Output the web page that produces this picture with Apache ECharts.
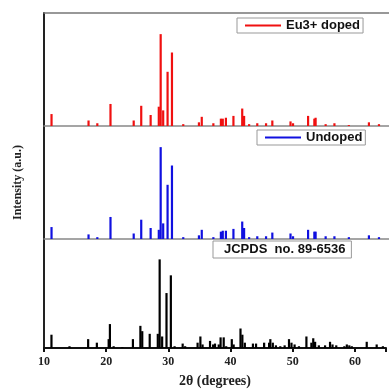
<!DOCTYPE html>
<html><head><meta charset="utf-8">
<script src="https://cdn.jsdelivr.net/npm/echarts@6/dist/echarts.min.js"></script>
<style>html,body{margin:0;padding:0;background:#fff}#c{width:389px;height:389px}</style>
</head><body><div id="c"></div>
<script>
// Eu3+ doped
const dopedPos = [11.2,17.1,18.5,20.6,24.3,25.5,27.0,28.3,28.6,29.0,29.7,30.4,32.2,34.7,35.15,37.0,38.2,38.5,39.0,40.2,41.6,41.9,42.7,44.0,45.4,46.4,49.3,49.7,52.1,53.1,53.3,54.9,56.3,58.6,61.8,63.4];
const dopedInt = [13,6,3,24,6,22,12,21,100,17,59,80,2,4,10,3,8,8,9,11,19,11,2,3,3,6,5,3,11,8,9,2,3,1,4,2];
// Undoped
const undopedPos = [11.2,17.1,18.5,20.6,24.3,25.5,27.0,28.3,28.6,29.0,29.7,30.4,32.2,34.7,35.15,37.0,38.2,38.5,39.0,40.2,41.6,41.9,42.7,44.0,45.4,46.4,49.3,49.7,52.1,53.1,53.3,54.9,56.3,58.6,61.8,63.4];
const undopedInt = [13,5,2,24,6,21,12,10,100,17,59,80,2,4,10,2,8,9,9,11,19,12,2,3,3,7,6,3,10,8,8,3,3,2,4,2];
// JCPDS no. 89-6536
const refPos = [11.2,14.1,17.1,18.5,20.4,20.6,21.2,22.6,24.3,25.5,25.8,27.0,28.3,28.6,29.0,29.7,30.4,31.0,32.3,32.7,34.7,35.15,35.5,36.7,37.2,37.5,38.1,38.4,38.9,39.3,40.2,40.5,41.6,41.9,42.3,43.6,44.1,45.4,46.2,46.4,46.8,47.3,48.0,48.7,49.4,49.8,50.3,51.0,52.2,53.0,53.3,53.6,54.2,55.2,56.0,56.4,57.0,58.3,58.7,59.1,59.5,61.9,63.5,64.5];
const refInt = [15,2,10,6,10,27,2,1,10,25,19,16,16,100,13,62,82,2,5,2,6,13,4,8,4,5,4,12,12,2,10,4,22,15,6,5,5,6,6,10,6,3,2,3,10,6,4,2,13,6,11,7,3,3,7,4,3,2,4,3,2,7,4,2];
const xTicks = [10,20,30,40,50,60];

const names = ['Eu3+ doped','Undoped','JCPDS  no. 89-6536'];
const colors = ['#f01010','#1010e0','#000000'];
const sets = [[dopedPos,dopedInt],[undopedPos,undopedInt],[refPos,refInt]];

const chart = echarts.init(document.getElementById('c'));
const grids = [
  {left:44,right:0,top:13,height:113},
  {left:44,right:0,top:126,height:113},
  {left:44,right:0,top:239,height:113}
];
const xAxis = [], yAxis = [], series = [];
for (let i=0;i<3;i++){
  const last = i===2;
  xAxis.push({type:'value',gridIndex:i,min:10,max:65,interval:10,
    axisLine:{show:true,onZero:false,lineStyle:{color:last?'#111':'#888',width:last?2:1.5}},
    axisTick:{show:last,length:4,lineStyle:{color:'#111',width:2}},
    axisLabel:{show:last,color:'#222',fontFamily:'Liberation Serif',fontWeight:'bold',fontSize:12,margin:8,
      formatter:v=>xTicks.includes(v)?String(v):''},
    splitLine:{show:false},
    name:last?'2θ (degrees)':'',nameLocation:'middle',nameGap:26,
    nameTextStyle:{fontFamily:'Liberation Serif',fontWeight:'bold',fontSize:14,color:'#222'}});
  yAxis.push({type:'value',gridIndex:i,min:0,max:123,
    axisLine:{show:true,lineStyle:{color:'#222',width:2}},
    axisTick:{show:false},axisLabel:{show:false},splitLine:{show:false},
    name:i===1?'Intensity (a.u.)':'',nameLocation:'middle',nameGap:20,nameRotate:90,
    nameTextStyle:{fontFamily:'Liberation Serif',fontWeight:'bold',fontSize:12,color:'#222'}});
  const [p,v] = sets[i];
  series.push({name:names[i],type:'bar',xAxisIndex:i,yAxisIndex:i,barWidth:2.2,barGap:'-100%',
    itemStyle:{color:colors[i]},data:p.map((x,k)=>[x,v[k]]),animation:false});
}
// top frame line
xAxis.push({type:'value',gridIndex:0,min:10,max:65,position:'top',
  axisLine:{show:true,onZero:false,lineStyle:{color:'#777',width:1.5}},axisTick:{show:false},axisLabel:{show:false},splitLine:{show:false}});

const legStyle = {fontFamily:'Liberation Sans',fontWeight:'bold',fontSize:13,color:'#111'};
chart.setOption({
  animation:false,
  grid:grids,xAxis,yAxis,series,
  legend:[
    {data:[{name:names[0],icon:'rect'}],left:237,top:18,itemWidth:36,itemHeight:2,borderColor:'#999',borderWidth:1,padding:[1,3,1,8],textStyle:legStyle},
    {data:[{name:names[1],icon:'rect'}],left:257,top:130,itemWidth:36,itemHeight:2,borderColor:'#999',borderWidth:1,padding:[1,3,1,8],textStyle:legStyle},
    {data:[{name:names[2],icon:'none'}],left:213,top:241,itemWidth:0,itemHeight:2,borderColor:'#999',borderWidth:1,padding:[2,6,2,6],textStyle:legStyle}
  ]
});
</script></body></html>
